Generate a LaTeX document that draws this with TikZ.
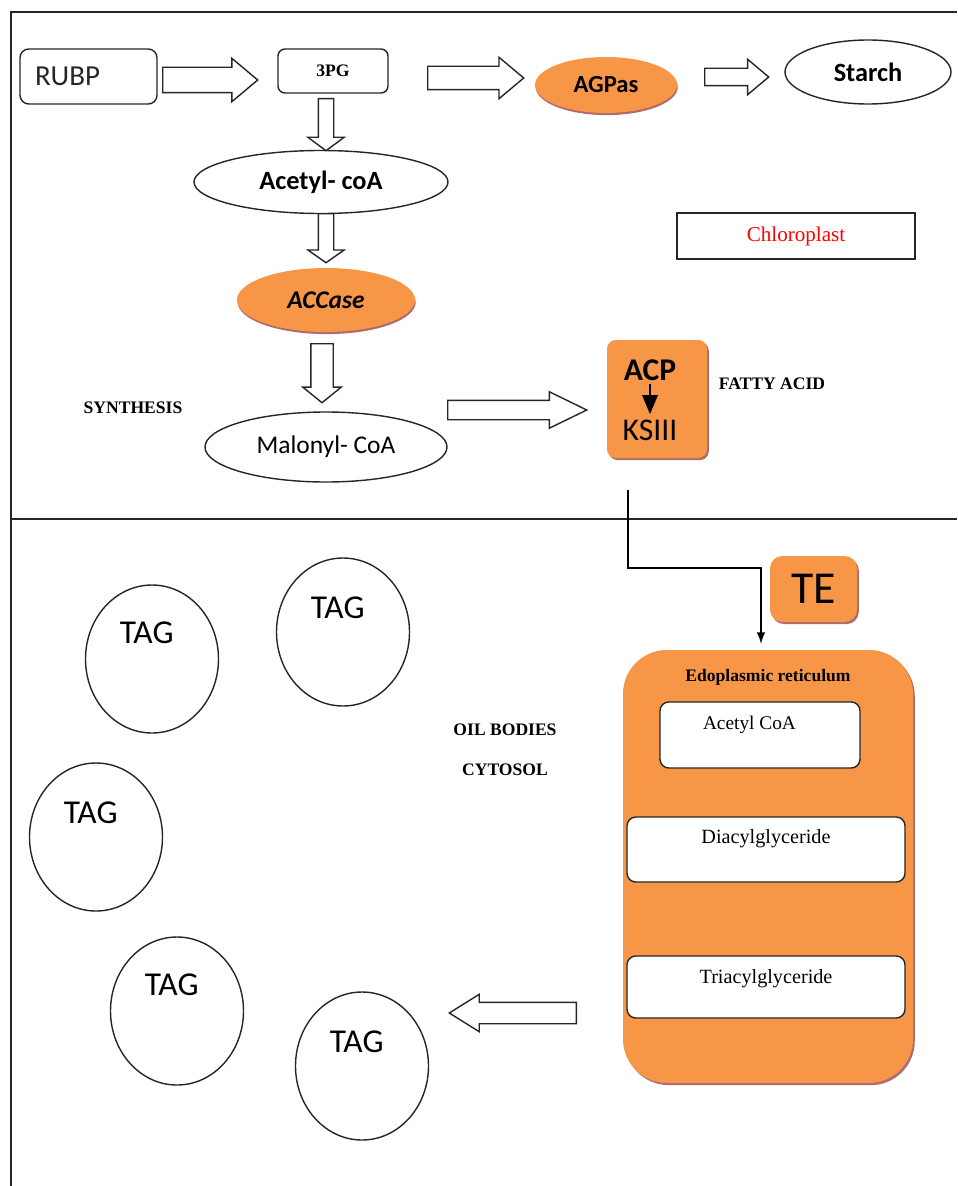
\documentclass[tikz,border=0pt]{standalone}
\usepackage{fontspec}
\setmainfont{Liberation Serif}
\newfontfamily\calibri{Carlito}
\usepackage{tikz}
\usetikzlibrary{positioning,shapes,shadows,arrows,calc}
\newcommand{\pxu}{0.02cm}
\newcommand{\fs}[1]{\fontsize{#1}{#1}\selectfont}
\newcommand{\upby}[2]{\raisebox{#1}[0pt][0pt]{#2}}
\newcommand{\tagtext}[1]{\raisebox{#1}[0pt][0pt]{TAG\hspace{6pt}}}
\definecolor{acorange}{RGB}{247,150,70}
\definecolor{shadowred}{RGB}{140,45,45}
\tikzstyle{frameline}=[line width=1.2pt, black!85]
\tikzstyle{plainbox}=[rectangle, draw=black!85, thick, rounded corners=4pt, fill=white, inner sep=0pt]
\tikzstyle{metab}=[ellipse, draw=black!85, thick, fill=white, inner sep=0pt]
\tikzstyle{enzyme}=[ellipse, fill=acorange, inner sep=0pt,
        drop shadow={shadow xshift=0.4pt, shadow yshift=-1.2pt, fill=shadowred, opacity=0.7}]
\tikzstyle{enzbox}=[rectangle, rounded corners=5pt, fill=acorange, inner sep=0pt,
        drop shadow={shadow xshift=1pt, shadow yshift=-1.2pt, fill=shadowred, opacity=0.7}]
\tikzstyle{bigarrow}=[single arrow, draw=black!85, thick, fill=white,
        single arrow head indent=0pt, anchor=tail]
\tikzstyle{oilbody}=[ellipse, draw=black!85, thick, minimum width=133*\pxu, minimum height=148*\pxu,
        inner sep=0pt, font=\calibri\fs{19}]
\tikzstyle{celltext}=[inner sep=0pt, font=\bfseries\fs{10}]
\tikzstyle{linkarrow}=[-latex, line width=1.2pt]

\begin{document}
\begin{tikzpicture}[x=0.02cm, y=-0.02cm]
	\useasboundingbox (0,0) rectangle (957,1186);

	% frame: chloroplast above, cytosol below
	\draw[frameline] (957,12) -- (11,12) -- (11,1186);
	\draw[frameline] (11,519) -- (957,519);

	\node (RUBP) [plainbox, rounded corners=5pt, minimum width=137*\pxu, minimum height=55*\pxu,
		text width=107*\pxu, align=left, font=\calibri\fs{16.5}, text=black!85] at (88.5,76.5) {RUBP};
	\node (PG3) [plainbox, minimum width=110*\pxu, minimum height=44*\pxu, font=\bfseries\fs{10}] at (333,71) {3PG};
	\node (AGPas) [enzyme, minimum width=142*\pxu, minimum height=56*\pxu, font=\calibri\bfseries\fs{14}] at (606,85) {AGPas};
	\node (Starch) [metab, minimum width=166*\pxu, minimum height=64*\pxu, font=\calibri\bfseries\fs{15}] at (868,72) {Starch};

	\node (AcCoA) [metab, minimum width=254*\pxu, minimum height=63*\pxu, font=\calibri\bfseries\fs{15}] at (321,182) {Acetyl- coA};
	\node (ACCase) [enzyme, minimum width=178*\pxu, minimum height=64*\pxu, font=\calibri\bfseries\itshape\fs{14.5}] at (326,300) {ACCase};
	\node (MalCoA) [metab, minimum width=242*\pxu, minimum height=70*\pxu, font=\calibri\fs{14.5}] at (326,447) {Malonyl- CoA};
	\node (Synth) [celltext] at (133,408) {SYNTHESIS};

	\node (Chloro) [plainbox, sharp corners, minimum width=238*\pxu, minimum height=46*\pxu, text=red, font=\fs{12}] at (796,236) {Chloroplast};

	\node (FAbox) [enzbox, minimum width=100*\pxu, minimum height=118*\pxu] at (657,399) {};
	\node (ACP) [inner sep=0pt, font=\calibri\bfseries\fs{18}] at (650,370) {ACP};
	\node (KSIII) [inner sep=0pt, font=\calibri\fs{18}] at (650,430) {KSIII};
	\node (FA) [celltext] at (772,384) {FATTY ACID};
	\draw[-triangle 45, line width=1.5pt, shorten <=2pt, shorten >=3pt] (ACP.south) -- (KSIII.north);

	% block arrows
	\node (a1) [bigarrow, minimum height=95*\pxu, inner sep=12*\pxu, single arrow head extend=9*\pxu, single arrow tip angle=80] at (162,80) {};
	\node (a2) [bigarrow, minimum height=96*\pxu, inner sep=11*\pxu, single arrow head extend=9*\pxu, single arrow tip angle=80] at (427,78) {};
	\node (a3) [bigarrow, minimum height=64*\pxu, inner sep=8*\pxu, single arrow head extend=9*\pxu, single arrow tip angle=80] at (704,77) {};
	\node (a4) [bigarrow, shape border rotate=270, minimum height=52*\pxu, inner sep=7*\pxu, single arrow head extend=10.5*\pxu, single arrow tip angle=107] at (326,98) {};
	\node (a5) [bigarrow, shape border rotate=270, minimum height=49*\pxu, inner sep=7*\pxu, single arrow head extend=10.5*\pxu, single arrow tip angle=110] at (326,213) {};
	\node (a6) [bigarrow, shape border rotate=270, minimum height=59*\pxu, inner sep=10.5*\pxu, single arrow head extend=8*\pxu, single arrow tip angle=102] at (322,343) {};
	\node (a7) [bigarrow, minimum height=139*\pxu, inner sep=9*\pxu, single arrow head extend=8.5*\pxu, single arrow tip angle=52] at (447,410) {};
	\node (a8) [bigarrow, shape border rotate=180, minimum height=127*\pxu, inner sep=10*\pxu, single arrow head extend=8*\pxu, single arrow tip angle=64] at (577,1013) {};

	% endoplasmic reticulum
	\node (TE) [enzbox, rounded corners=7pt, minimum width=87*\pxu, minimum height=66*\pxu, font=\calibri\fs{26}] at (813.5,589) {TE};
	\node (ER) [enzbox, rounded corners=25pt, minimum width=290*\pxu, minimum height=433*\pxu] at (768,866.5) {};
	\node (ERtitle) [celltext, below=0.38cm of ER.north] {Edoplasmic reticulum};
	\node (ERacetyl) [plainbox, rounded corners=5pt, minimum width=200*\pxu, minimum height=66*\pxu, font=\fs{11}] at (760,735)
		{\upby{3pt}{Acetyl CoA\hspace{12pt}}};
	\node (DAG) [plainbox, rounded corners=5pt, minimum width=278*\pxu, minimum height=65*\pxu, font=\fs{11.5}] at (766,849.5)
		{\upby{3.4pt}{Diacylglyceride}};
	\node (TAGer) [plainbox, rounded corners=5pt, minimum width=278*\pxu, minimum height=62*\pxu, font=\fs{11.5}] at (766,987)
		{\upby{2pt}{Triacylglyceride}};

	\coordinate (FAout) at ($(FAbox.south)+(-29,32)$);
	\draw[linkarrow] (FAout) -- ++(0,78) -| ($(ER.north)+(-7,-6)$);

	% oil bodies
	\node (Oil) [celltext] at (505,730) {OIL BODIES};
	\node (Cyto) [celltext] at (505,770) {CYTOSOL};
	\node (tag1) [oilbody] at (152,659) {\tagtext{9pt}};
	\node (tag2) [oilbody] at (343,632) {\tagtext{7.6pt}};
	\node (tag3) [oilbody] at (96,837) {\tagtext{7.6pt}};
	\node (tag4) [oilbody] at (177,1011) {\tagtext{8.6pt}};
	\node (tag5) [oilbody] at (362,1066) {\tagtext{7.6pt}};

\end{tikzpicture}
\end{document}
